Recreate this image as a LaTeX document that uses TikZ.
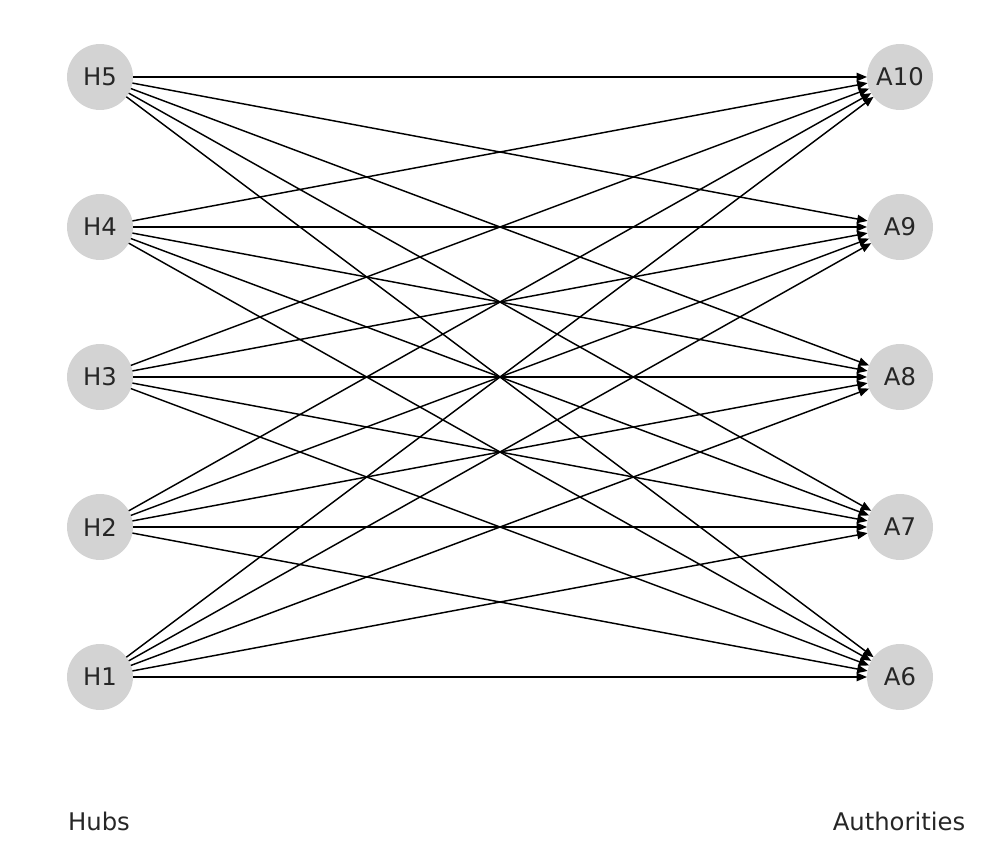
\documentclass[tikz,border=0pt]{standalone}
\usepackage{fontspec}
\setmainfont{DejaVu Sans}
\usetikzlibrary{arrows.meta}
\definecolor{nodegray}{HTML}{D3D3D3}
\tikzset{
  vert/.style={circle, fill=nodegray, minimum size=47.5pt, inner sep=0pt, outer sep=0pt, font=\fontsize{17.5pt}{20pt}\selectfont, text=black!85},
  edge/.style={line width=1.05pt, black, -{Triangle[length=7.5pt,width=6pt]}, shorten >=0pt},
  caption/.style={font=\fontsize{17.5pt}{20pt}\selectfont, text=black!85}
}
\begin{document}
\begin{tikzpicture}[x=0.72pt, y=-0.72pt]
\useasboundingbox (0,0) rectangle (1000,850);
\foreach \i/\y in {5/77, 4/227, 3/377, 2/527, 1/677} {
  \node[vert] (H\i) at (100,\y) {H\i};
}
\foreach \j/\y in {10/77, 9/227, 8/377, 7/527, 6/677} {
  \node[vert] (A\j) at (900,\y) {A\j};
}
\foreach \i in {1,...,5} {
  \foreach \j in {6,...,10} {
    \draw[edge] (H\i) -- (A\j);
  }
}
\node[caption] (hubs) at (99,821) {Hubs};
\node[caption] (auth) at (899,821) {Authorities};
\end{tikzpicture}
\end{document}
